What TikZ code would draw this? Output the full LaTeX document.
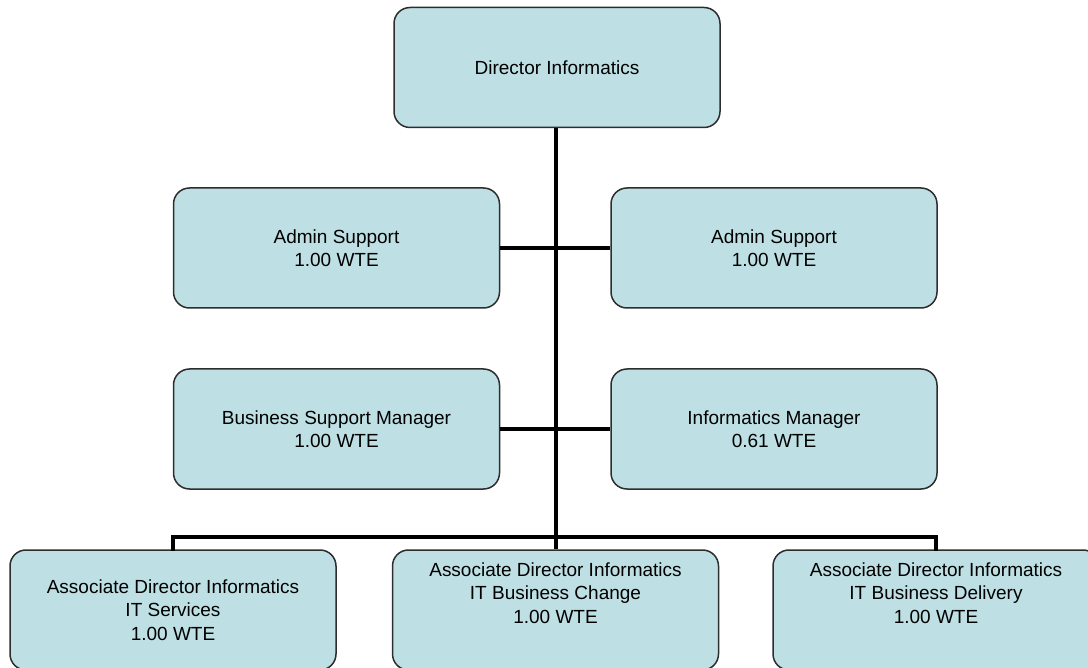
\documentclass[tikz,border=0pt]{standalone}
\usepackage{fontspec}
\setmainfont{Liberation Sans}
\begin{document}
\definecolor{boxfill}{RGB}{190,224,228}
\definecolor{boxline}{RGB}{45,45,45}
\begin{tikzpicture}[x=1pt,y=-1pt,
  post/.style={draw=boxline, line width=1.5pt, fill=boxfill, rounded corners=16pt,
    minimum width=326pt, minimum height=120pt, inner sep=0pt, align=center,
    font=\fontsize{19}{23.5}\selectfont},
  caption/.style={align=center, inner sep=0pt, font=\fontsize{19}{23.5}\selectfont},
  link/.style={draw=black, line width=4pt}]
\useasboundingbox (0,0) rectangle (1088,668);
\clip (0,0) rectangle (1088,668);

% level of the horizontal bus above the three associate directors
\coordinate (busy) at (555.5,537);

% posts
\node[post] (dir) at (557,67.5) {Director Informatics};
\node[post] (al) at (336.5,248) {Admin Support\\1.00 WTE};
\node[post] (ar) at (774,248) {Admin Support\\1.00 WTE};
\node[post] (bs) at (336.5,429) {Business Support Manager\\1.00 WTE};
\node[post] (im) at (774,429) {Informatics Manager\\0.61 WTE};
\node[post] (bl) at (173,610) {Associate Director Informatics\\IT Services\\1.00 WTE};
\node[post] (bm) at (555.5,610) {};
\node[post] (br) at (936,610) {};
\node[caption] (bmt) at (555.5,593) {Associate Director Informatics\\IT Business Change\\1.00 WTE};
\node[caption] (brt) at (936,593) {Associate Director Informatics\\IT Business Delivery\\1.00 WTE};

% reporting lines
\draw[link] (dir.south -| bm.north) -- (bm.north);
\draw[link] (al.east) -- (ar.west);
\draw[link] (bs.east) -- (im.west);
\draw[link, line cap=rect] (bl.north) |- (busy) -| (br.north);
\end{tikzpicture}
\end{document}
